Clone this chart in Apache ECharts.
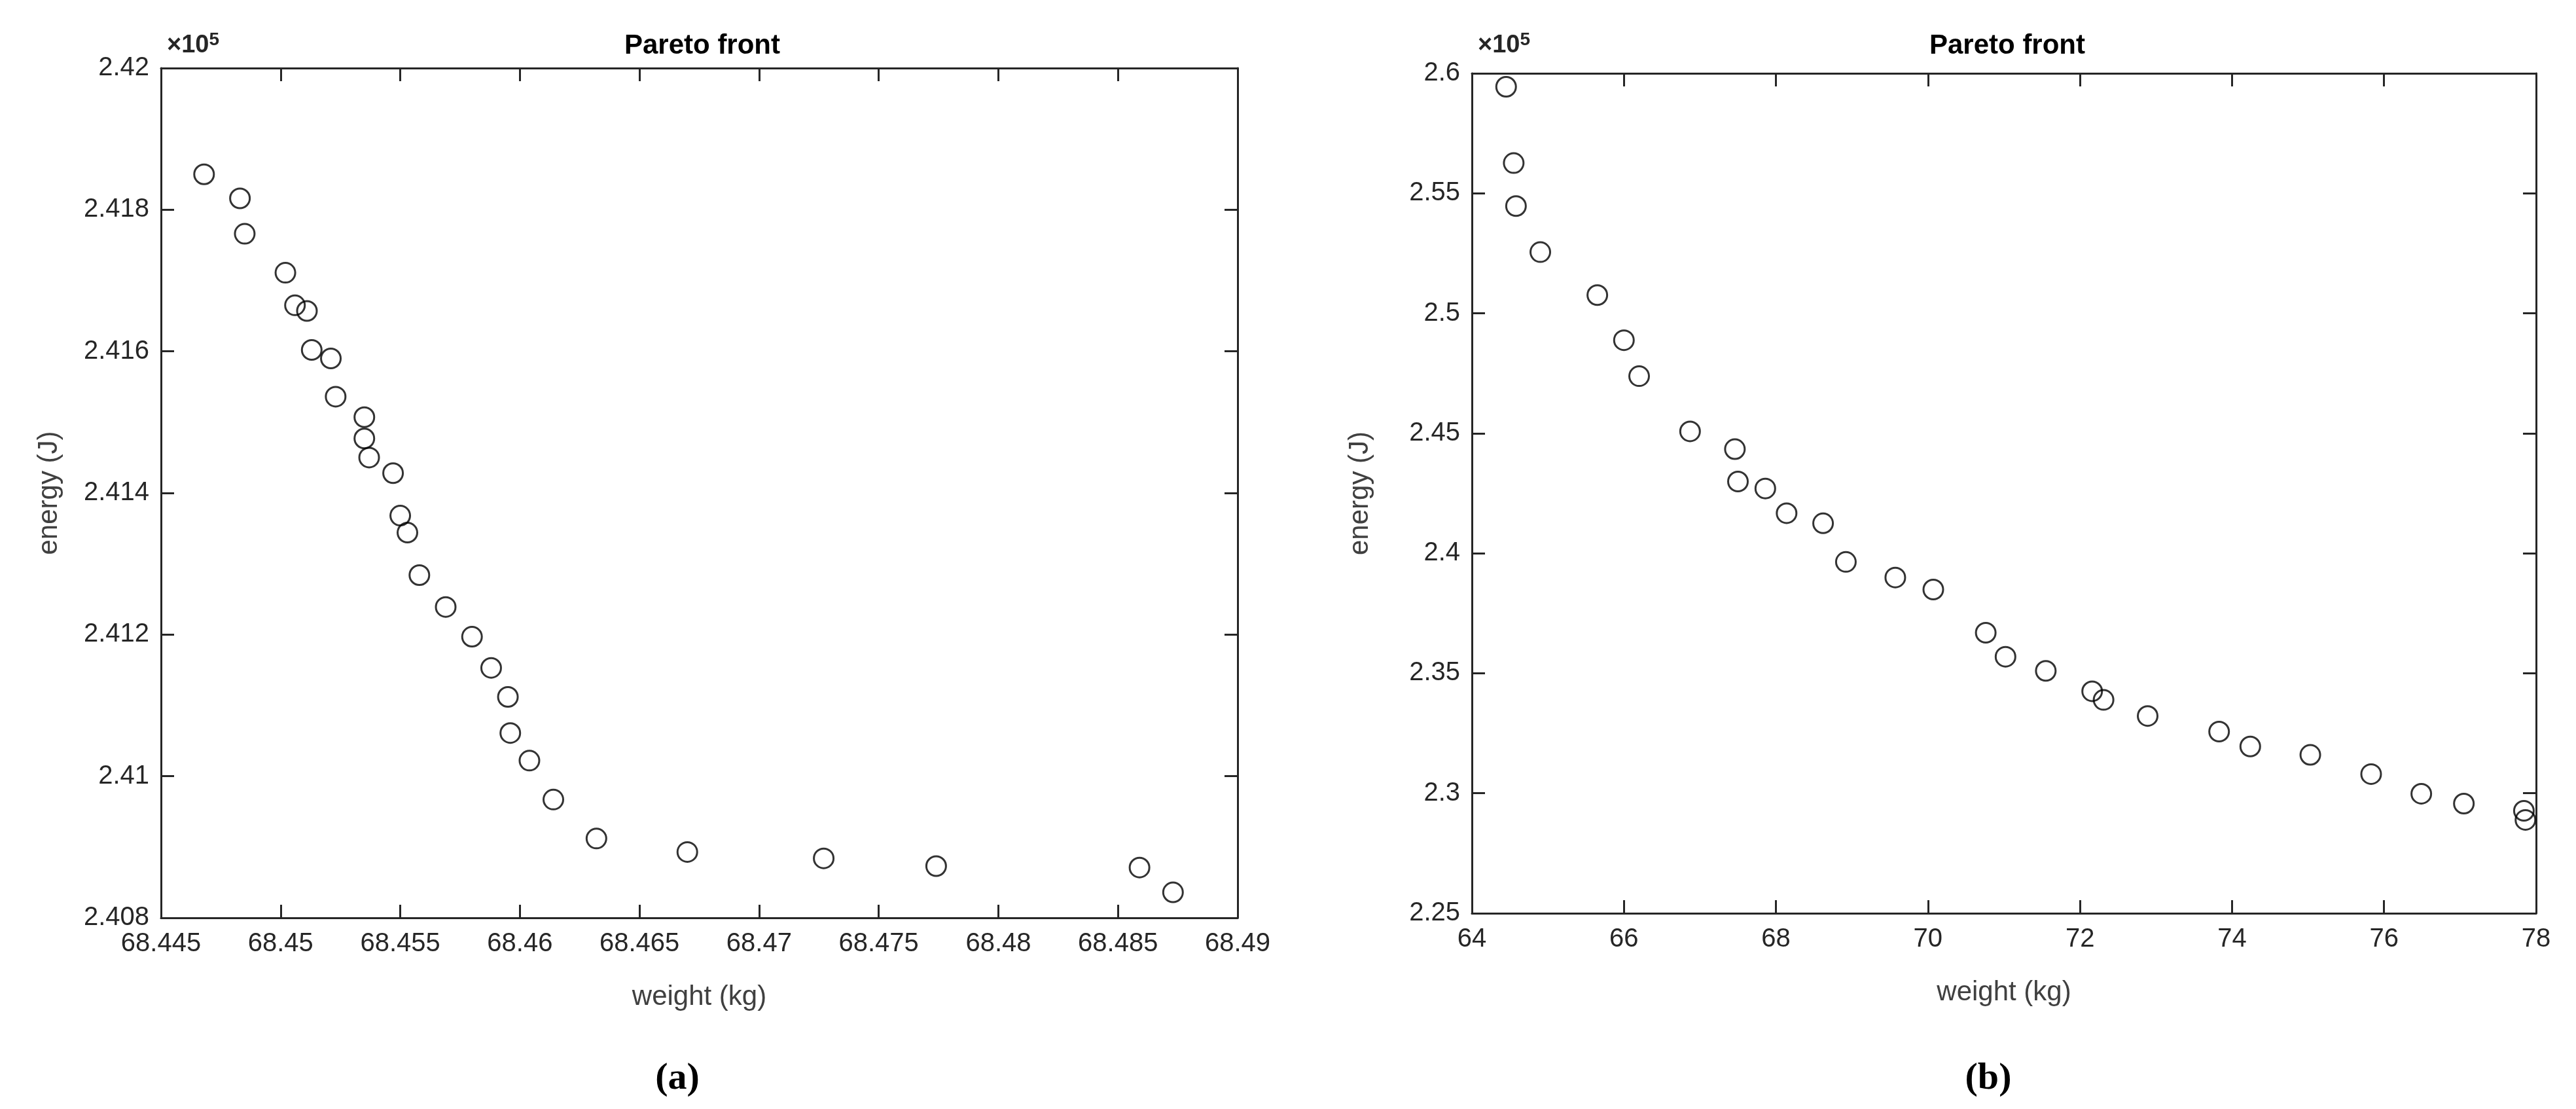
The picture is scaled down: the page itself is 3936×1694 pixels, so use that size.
<!DOCTYPE html>
<html>
<head>
<meta charset="utf-8">
<script src="https://cdn.jsdelivr.net/npm/echarts@6/dist/echarts.min.js"></script>
<style>html,body{margin:0;padding:0;background:#fff;}#chart{width:3936px;height:1694px;}</style>
</head>
<body>
<div id="chart"></div>
<script>
// (a) weight (kg) / energy (x1e5 J)
const weightA = [68.4468, 68.4483, 68.4485, 68.4502, 68.4506, 68.4511, 68.4513, 68.4521, 68.4523, 68.4535,
  68.4535, 68.4537, 68.4547, 68.4550, 68.4553, 68.4558, 68.4569, 68.4580, 68.4588, 68.4595,
  68.4596, 68.4604, 68.4614, 68.4632, 68.4670, 68.4727, 68.4774, 68.4859, 68.4873];
const energyA = [2.41850, 2.41816, 2.41766, 2.41711, 2.41665, 2.41657, 2.41602, 2.41590, 2.41536, 2.41507,
  2.41477, 2.41450, 2.41428, 2.41368, 2.41344, 2.41284, 2.41239, 2.41197, 2.41153, 2.41112,
  2.41061, 2.41022, 2.40967, 2.40912, 2.40893, 2.40884, 2.40873, 2.40871, 2.40836];
// (b)
const weightB = [64.45, 64.55, 64.58, 64.90, 65.65, 66.00, 66.20, 66.87, 67.46, 67.50,
  67.86, 68.14, 68.62, 68.92, 69.57, 70.07, 70.76, 71.02, 71.55, 72.16,
  72.31, 72.89, 73.83, 74.24, 75.03, 75.83, 76.49, 77.05, 77.84, 77.86];
const energyB = [2.5944, 2.5626, 2.5447, 2.5255, 2.5076, 2.4888, 2.4738, 2.4508, 2.4434, 2.4299,
  2.4270, 2.4167, 2.4125, 2.3964, 2.3899, 2.3849, 2.3669, 2.3569, 2.3510, 2.3425,
  2.3389, 2.3322, 2.3257, 2.3195, 2.3160, 2.3080, 2.2998, 2.2957, 2.2927, 2.2889];

const font = 'Arial, "Liberation Sans", sans-serif';
const txt = '#262626';
const fmt = v => String(Number(v.toFixed(4)));

const chart = echarts.init(document.getElementById('chart'));

function axes(idx, min, max, interval, name, isX) {
  const base = {
    gridIndex: idx, type: 'value', min: min, max: max, interval: interval,
    axisLine: { show: true, onZero: false, lineStyle: { color: '#262626', width: 3 } },
    axisTick: { show: true, inside: true, length: 20, lineStyle: { color: '#262626', width: 3 } },
    splitLine: { show: false }
  };
  const main = Object.assign({}, base, {
    position: isX ? 'bottom' : 'left',
    name: name, nameLocation: 'middle', nameGap: isX ? 100 : 150,
    nameTextStyle: { fontFamily: font, fontSize: 42, color: '#404040' },
    axisLabel: { formatter: fmt, fontFamily: font, fontSize: 40, color: txt, margin: isX ? 20 : 18 }
  });
  const mirror = Object.assign({}, base, {
    position: isX ? 'top' : 'right',
    axisLabel: { show: false }
  });
  return [main, mirror];
}

const gridA = { left: 246, top: 104, width: 1645, height: 1298 };
const gridB = { left: 2249, top: 112, width: 1626, height: 1283 };

const xs = [].concat(axes(0, 68.445, 68.49, 0.005, 'weight (kg)', true), axes(1, 64, 78, 2, 'weight (kg)', true));
const ys = [].concat(axes(0, 2.408, 2.42, 0.002, 'energy (J)', false), axes(1, 2.25, 2.6, 0.05, 'energy (J)', false));

function scatter(idx, wx, ey) {
  return {
    type: 'scatter', xAxisIndex: idx * 2, yAxisIndex: idx * 2,
    data: wx.map((w, i) => [w, ey[i]]),
    symbol: 'circle', symbolSize: 30,
    itemStyle: { color: 'rgba(0,0,0,0)', borderColor: '#000', borderWidth: 3 }
  };
}

function titleAt(text, x, y, extra) {
  return Object.assign({ text: text, left: x, top: y, textAlign: 'center',
    textStyle: { fontFamily: font, fontSize: 42, fontWeight: 'bold', color: '#000' } }, extra || {});
}

const expo = { text: '{a|×10}{b|5}', textStyle: { rich: {
  a: { fontFamily: font, fontSize: 38, color: txt },
  b: { fontFamily: font, fontSize: 28, color: txt, verticalAlign: 'top', padding: [0, 0, 18, 0] } } } };

chart.setOption({
  backgroundColor: '#fff',
  animation: false,
  title: [
    titleAt('Pareto front', 1068, 44),
    titleAt('Pareto front', 3062, 44),
    Object.assign({ left: 250, top: 42 }, expo),
    Object.assign({ left: 2253, top: 42 }, expo),
    titleAt('(a)', 1030, 1614, { textStyle: { fontFamily: '"Liberation Serif", serif', fontSize: 58, fontWeight: 'bold', color: '#000' } }),
    titleAt('(b)', 3033, 1614, { textStyle: { fontFamily: '"Liberation Serif", serif', fontSize: 58, fontWeight: 'bold', color: '#000' } })
  ],
  grid: [gridA, gridB],
  xAxis: xs,
  yAxis: ys,
  series: [scatter(0, weightA, energyA), scatter(1, weightB, energyB)]
});
</script>
</body>
</html>
